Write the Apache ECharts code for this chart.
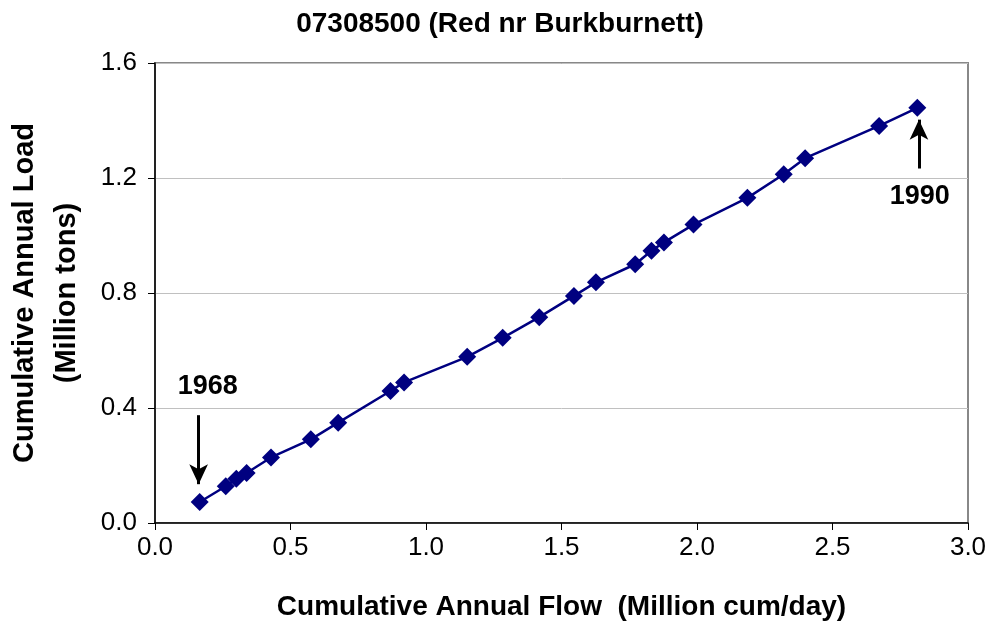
<!DOCTYPE html>
<html>
<head>
    <meta charset="utf-8">
    <title>07308500 (Red nr Burkburnett)</title>
    <script src="https://cdn.jsdelivr.net/npm/echarts@6/dist/echarts.min.js"></script>
    <style>
        body { margin: 0; background: #fff; }
    </style>
</head>
<body>
    <div id="main" style="width: 993px;height:630px;"></div>
    <script type="text/javascript">
        // cumulative annual flow (million cum/day), 1968..1990
        var flow = [0.165, 0.261, 0.300, 0.338, 0.428, 0.575, 0.676, 0.869, 0.919, 1.152, 1.283, 1.418,
            1.546, 1.627, 1.772, 1.832, 1.878, 1.987, 2.186, 2.320, 2.399, 2.672, 2.813];
        // cumulative annual load (million tons)
        var load = [0.073, 0.128, 0.154, 0.174, 0.228, 0.291, 0.349, 0.459, 0.489, 0.578, 0.644, 0.716,
            0.790, 0.837, 0.900, 0.947, 0.976, 1.038, 1.131, 1.213, 1.269, 1.381, 1.444];
        var xTicks = [0, 0.5, 1.0, 1.5, 2.0, 2.5, 3.0];
        var yTicks = [0, 0.4, 0.8, 1.2, 1.6];
        // annotations: [label, label x, label y, arrow from, arrow to]
        var notes = [
            ['1968', 0.195, 0.474, [0.161, 0.375], [0.161, 0.135]],
            ['1990', 2.822, 1.136, [2.819, 1.233], [2.819, 1.403]]
        ];

        var myChart = echarts.init(document.getElementById('main'));

        var points = flow.map(function (f, i) { return [f, load[i]]; });
        var font = 'Arial, "Liberation Sans", sans-serif';

        var option = {
            backgroundColor: '#fff',
            title: {
                text: '07308500 (Red nr Burkburnett)',
                left: 495,
                top: 5,
                textAlign: 'center',
                textStyle: { fontFamily: font, fontSize: 28, fontWeight: 'bold', color: '#000' }
            },
            grid: {
                left: 155, right: 25, top: 63, bottom: 107,
                containLabel: false, outerBoundsMode: 'none',
                show: true, borderColor: '#888', borderWidth: 2, backgroundColor: '#fff'
            },
            xAxis: {
                type: 'value',
                min: xTicks[0], max: xTicks[xTicks.length - 1], interval: 0.5,
                name: 'Cumulative Annual Flow  (Million cum/day)',
                nameLocation: 'middle', nameGap: 70,
                nameTextStyle: { fontFamily: font, fontSize: 28, fontWeight: 'bold', color: '#000' },
                axisLine: { lineStyle: { color: '#000', width: 1.5 } },
                axisTick: { show: true, inside: false, length: 7, lineStyle: { color: '#000' } },
                axisLabel: {
                    fontFamily: font, fontSize: 26, color: '#000', margin: 12,
                    formatter: function (v) { return v.toFixed(1); }
                },
                splitLine: { show: false }
            },
            yAxis: {
                type: 'value',
                min: yTicks[0], max: yTicks[yTicks.length - 1], interval: 0.4,
                name: 'Cumulative Annual Load\n(Million tons)',
                nameLocation: 'middle', nameGap: 67, nameRotate: 90,
                nameTextStyle: { fontFamily: font, fontSize: 29, fontWeight: 'bold', color: '#000', lineHeight: 42, align: 'center' },
                axisLine: { show: true, lineStyle: { color: '#000', width: 1.5 } },
                axisTick: { show: true, inside: false, length: 7, lineStyle: { color: '#000' } },
                axisLabel: {
                    fontFamily: font, fontSize: 26, color: '#000', margin: 18,
                    formatter: function (v) { return v.toFixed(1); }
                },
                splitLine: { show: true, lineStyle: { color: '#c0c0c0', width: 1 } }
            },
            series: [{
                type: 'line',
                data: points,
                symbol: 'diamond',
                symbolSize: 18,
                lineStyle: { color: '#000080', width: 2.5 },
                itemStyle: { color: '#000080' },
                z: 5,
                markLine: {
                    silent: true,
                    symbol: ['none', 'arrow'],
                    symbolSize: [14, 20],
                    label: { show: false },
                    lineStyle: { color: '#000', width: 3, type: 'solid' },
                    data: notes.map(function (n) {
                        return [{ coord: n[3] }, { coord: n[4] }];
                    })
                },
                markPoint: {
                    silent: true,
                    symbol: 'circle',
                    symbolSize: 0,
                    label: {
                        show: true, position: 'inside',
                        fontFamily: font, fontSize: 27, fontWeight: 'bold', color: '#000',
                        formatter: function (p) { return p.name; }
                    },
                    data: notes.map(function (n) {
                        return { name: n[0], coord: [n[1], n[2]] };
                    })
                }
            }]
        };

        myChart.setOption(option);
    </script>
</body>
</html>
